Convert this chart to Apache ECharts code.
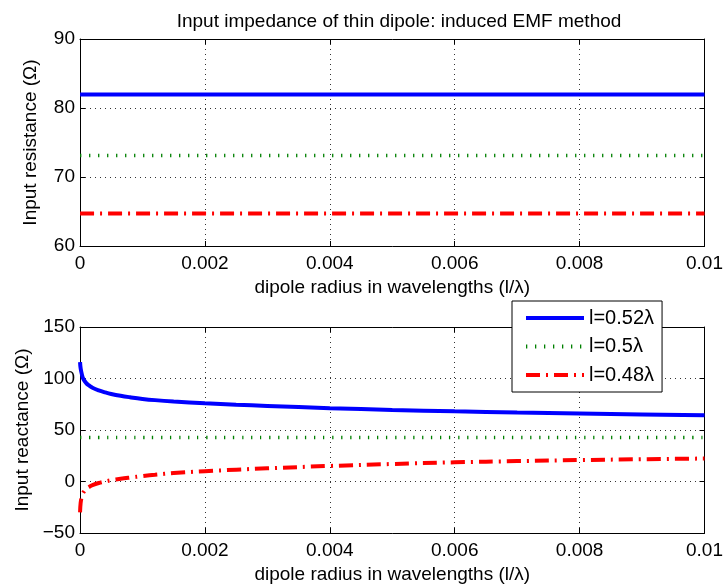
<!DOCTYPE html>
<html>
<head>
<meta charset="utf-8">
<script src="https://cdn.jsdelivr.net/npm/echarts@6/dist/echarts.min.js"></script>
<style>
  html, body { margin: 0; padding: 0; background: #fff; }
  #chart { width: 726px; height: 588px; }
</style>
</head>
<body>
<div id="chart"></div>
<script>
  // dipole radius (l/lambda) samples
  const radius = [0.000001, 0.00001, 0.00003, 0.00005, 0.0001, 0.00015, 0.0002, 0.0003, 0.0004, 0.0005, 0.00065,
    0.0008, 0.001, 0.0012, 0.0015, 0.002, 0.0025, 0.003, 0.004, 0.005, 0.006, 0.007, 0.008, 0.009, 0.01]

  // input resistance (ohm), flat for each length
  const res052 = radius.map(() => 81.95)
  const res050 = radius.map(() => 73.1)
  const res048 = radius.map(() => 64.7)

  // input reactance (ohm)
  const react052 = [116, 110, 104, 100, 95.5, 93, 91, 88.5, 86.6, 85, 83.2,
    81.8, 80.2, 79, 77.7, 76, 74.6, 73.4, 71.2, 69.5, 68.1, 67, 66, 65.1, 64.2]
  const react050 = radius.map(() => 42.6)
  const react048 = [-30, -21, -14, -11, -7, -5, -3.5, -1.5, 0, 1.2, 2.6,
    3.8, 5.3, 6.6, 8.2, 10, 11.5, 12.8, 15.1, 17, 18.6, 19.8, 20.8, 21.6, 22.3]

  const names = ['l=0.52λ', 'l=0.5λ', 'l=0.48λ']

  const font = 'Liberation Sans, Arial, Helvetica, sans-serif'

  const styles = [
    { color: '#0000ff', width: 4, type: 'solid' },
    { color: '#008000', width: 3.5, type: [1.3, 7.7] },
    { color: '#ff0000', width: 4, type: [14, 6, 2, 6] }
  ]

  function pairs(ys) {
    return radius.map((r, i) => [r, ys[i]])
  }

  function mainX(gridIndex) {
    return {
      type: 'value', gridIndex: gridIndex, min: 0, max: 0.01, interval: 0.002,
      name: 'dipole radius in wavelengths (l/λ)', nameLocation: 'middle', nameGap: 32,
      nameTextStyle: { color: '#000', fontSize: 19, fontFamily: font },
      axisLine: { show: true, onZero: false, lineStyle: { color: '#000', width: 1 } },
      axisTick: { show: true, inside: true, length: 5, lineStyle: { color: '#000' } },
      axisLabel: { color: '#000', fontSize: 19, fontFamily: font, margin: 8,
        formatter: v => String(+v.toFixed(4)) },
      splitLine: { show: true, lineStyle: { color: '#333', type: [1, 4], width: 1 } }
    }
  }

  function mirrorX(gridIndex) {
    return {
      type: 'value', gridIndex: gridIndex, position: 'top', min: 0, max: 0.01, interval: 0.002,
      axisLine: { show: true, onZero: false, lineStyle: { color: '#000', width: 1 } },
      axisTick: { show: true, inside: true, length: 5, lineStyle: { color: '#000' } },
      axisLabel: { show: false }, splitLine: { show: false }
    }
  }

  function mainY(gridIndex, min, max, interval, name) {
    return {
      type: 'value', gridIndex: gridIndex, min: min, max: max, interval: interval,
      name: name, nameLocation: 'middle', nameGap: 40, nameRotate: 90,
      nameTextStyle: { color: '#000', fontSize: 19, fontFamily: font },
      axisLine: { show: true, onZero: false, lineStyle: { color: '#000', width: 1 } },
      axisTick: { show: true, inside: true, length: 5, lineStyle: { color: '#000' } },
      axisLabel: { color: '#000', fontSize: 19, fontFamily: font, margin: 5,
        formatter: v => (v < 0 ? '\u2212' + Math.abs(v) : String(v)) },
      splitLine: { show: true, lineStyle: { color: '#333', type: [1, 4], width: 1 } }
    }
  }

  function mirrorY(gridIndex, min, max, interval) {
    return {
      type: 'value', gridIndex: gridIndex, position: 'right', min: min, max: max, interval: interval,
      axisLine: { show: true, onZero: false, lineStyle: { color: '#000', width: 1 } },
      axisTick: { show: true, inside: true, length: 5, lineStyle: { color: '#000' } },
      axisLabel: { show: false }, splitLine: { show: false }
    }
  }

  function line(name, data, idx, s, showInLegend) {
    return {
      name: showInLegend ? name : name + ' ',
      type: 'line', xAxisIndex: idx * 2, yAxisIndex: idx * 2,
      data: pairs(data), symbol: 'none', smooth: idx === 1 ? 0.4 : false,
      clip: true, animation: false,
      lineStyle: { color: s.color, width: s.width, type: s.type },
      itemStyle: { color: s.color }
    }
  }

  const chart = echarts.init(document.getElementById('chart'), null, { renderer: 'canvas' })

  const option = {
    backgroundColor: '#fff',
    animation: false,
    title: {
      text: 'Input impedance of thin dipole: induced EMF method',
      left: 394, top: 7, textAlign: 'center',
      textStyle: { color: '#000', fontSize: 19, fontWeight: 'normal', fontFamily: font }
    },
    grid: [
      { left: 80, right: 18, top: 39, height: 207 },
      { left: 80, right: 18, top: 327, height: 206 }
    ],
    xAxis: [mainX(0), mirrorX(0), mainX(1), mirrorX(1)],
    yAxis: [
      mainY(0, 60, 90, 10, 'Input resistance (Ω)'), mirrorY(0, 60, 90, 10),
      mainY(1, -50, 150, 50, 'Input reactance (Ω)'), mirrorY(1, -50, 150, 50)
    ],
    legend: {
      data: names,
      orient: 'vertical',
      left: 512, top: 301,
      padding: [7, 8, 7, 12],
      itemWidth: 58, itemHeight: 14, itemGap: 8.5,
      itemStyle: { opacity: 0 },
      lineStyle: { width: 4 },
      backgroundColor: '#fff',
      borderColor: '#000', borderWidth: 1, borderRadius: 0,
      textStyle: { color: '#000', fontSize: 20, fontFamily: font },
      z: 10
    },
    series: [
      line(names[0], res052, 0, styles[0], false),
      line(names[1], res050, 0, styles[1], false),
      line(names[2], res048, 0, styles[2], false),
      line(names[0], react052, 1, styles[0], true),
      line(names[1], react050, 1, styles[1], true),
      line(names[2], react048, 1, styles[2], true)
    ]
  }

  chart.setOption(option, true)
</script>
</body>
</html>
